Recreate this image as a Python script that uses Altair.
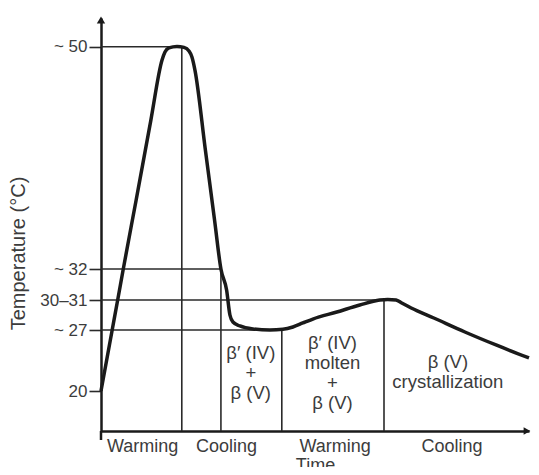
import json
import altair as alt
import pandas as pd

# ---- data (schematic time units 0-100, temperature in °C) ----
curve_time = [0, 2.56, 3.82, 5.10, 8.05, 11.42, 13.96, 14.65, 15.56, 17.39, 18.99, 20.14,
              20.82, 21.51, 23.9, 26.0, 27.46, 28.76, 29.52, 30.21, 31.81, 34.78, 38.67,
              41.65, 43.94, 46.22, 48.51, 54.0, 59.27, 63.84, 65.68, 67.73, 69.1, 71.4,
              76.89, 84.44, 91.99, 100]
curve_temp = [20, 27, 30.5, 32, 37.59, 44.06, 48.9, 49.57, 49.9, 50.02, 49.94, 49.65,
              49.17, 48.11, 41.64, 35.97, 32, 30.98, 28.75, 27.93, 27.47, 27.12, 27.0,
              27.08, 27.35, 27.82, 28.28, 29.1, 29.92, 30.5, 30.53, 30.5, 30.15, 29.57,
              28.4, 26.77, 25.28, 23.79]

y_tick_values = [20, 27, 30.5, 32, 50]
y_tick_labels = ["20", "~ 27", "30–31", "~ 32", "~ 50"]

# guide lines: horizontal from the axis to a time, vertical from the axis up to a temperature
h_temp = [50, 32, 30.5, 27]
h_end = [18.5, 27.46, 64.8, 41.4]
v_time = [18.5, 27.46, 41.4, 64.8]
v_top = [50, 32, 27.08, 30.5]

phase_pos = [9.4, 28.6, 53.5, 81.2]
phase_labels = ["Warming", "Cooling", "Warming", "Cooling"]

region_time = [34.3, 53.0, 80.3]
region_temp = [24.36, 25.51, 23.33]   # position of each block's first line
region_text = ["β′ (IV)\n+\nβ (V)", "β′ (IV)\nmolten\n+\nβ (V)", "β (V)\ncrystallization"]

# schematic (piecewise) axes
T_MIN, T_MAX = 15.4, 52.3
y_domain = [T_MIN, 20, 27, 30.5, 32, 50, T_MAX]
y_range = [413, 373, 312, 282, 251, 28.7, 0]
x_domain = [0, 64.8, 100]
x_range = [0, 283, 428]

FONT = "Liberation Sans"
TXT = "#3c3c3c"
INK = "#1a1a1a"
GRID = "#2a2a2a"

xscale = alt.Scale(domain=x_domain, range=x_range, nice=False, zero=False)
yscale = alt.Scale(domain=y_domain, range=y_range, nice=False, zero=False)

y_expr = "%s[indexof(%s, datum.value)]" % (json.dumps(y_tick_labels, ensure_ascii=False), json.dumps(y_tick_values))
x_expr = "%s[indexof(%s, datum.value)]" % (json.dumps(phase_labels), json.dumps(phase_pos))

xaxis = alt.Axis(values=phase_pos, labelExpr=x_expr, grid=False, ticks=False, tickSize=0,
                 labelPadding=6, labelFontSize=18, labelFont=FONT, labelColor=TXT,
                 labelFlush=False, labelOverlap=False,
                 domainColor=INK, domainWidth=2.5,
                 titleFontSize=18, titleFont=FONT, titleColor=TXT, titleFontWeight="normal",
                 titlePadding=1)
yaxis = alt.Axis(values=y_tick_values, labelExpr=y_expr, grid=False, tickSize=12, tickWidth=1.6,
                 tickColor=GRID, labelPadding=2, labelFontSize=17, labelFont=FONT,
                 labelColor=TXT, labelOverlap=False, labelFlush=False,
                 domainColor=INK, domainWidth=2.5,
                 titleFontSize=20, titleFont=FONT, titleColor=TXT, titleFontWeight="normal",
                 titleAngle=270, titleX=-83, titleY=235, titleAlign="center",
                 titleBaseline="middle")


def X(f="t"):
    return alt.X(f, type="quantitative", scale=xscale, axis=xaxis, title="Time")


def Y(f="T"):
    return alt.Y(f, type="quantitative", scale=yscale, axis=yaxis, title="Temperature (°C)")


hdf = pd.DataFrame({"t": [0] * len(h_temp), "t2": h_end, "T": h_temp})
vdf = pd.DataFrame({"t": v_time, "T": [T_MIN] * len(v_time), "T2": v_top})
cdf = pd.DataFrame({"t": curve_time, "T": curve_temp})
rdf = pd.DataFrame({"t": region_time, "T": region_temp, "label": region_text})

hrules = alt.Chart(hdf).mark_rule(color=GRID, strokeWidth=1.6).encode(x=X(), x2="t2", y=Y())
vrules = alt.Chart(vdf).mark_rule(color=GRID, strokeWidth=1.6).encode(x=X(), y=Y(), y2="T2")
curve = alt.Chart(cdf).mark_line(color=INK, strokeWidth=3.5, interpolate="monotone").encode(
    x=X(), y=Y(), order="t:Q")
texts = alt.Chart(rdf).mark_text(font=FONT, fontSize=18.5, color=TXT, lineBreak="\n",
                                 lineHeight=20, align="center", baseline="middle").encode(
    x=X(), y=Y(), text="label:N")

up = alt.Chart(pd.DataFrame({"t": [0], "T": [T_MAX]})).mark_point(
    shape="triangle-up", filled=True, size=70, color=INK, opacity=1, yOffset=2).encode(x=X(), y=Y())
right = alt.Chart(pd.DataFrame({"t": [100], "T": [T_MIN]})).mark_point(
    shape="triangle-right", filled=True, size=60, color=INK, opacity=1, xOffset=-2).encode(x=X(), y=Y())
stub = alt.Chart(pd.DataFrame({"t": [0], "T": [T_MIN], "T2": [T_MIN]})).mark_rule(
    color=INK, strokeWidth=2.5, y2Offset=9).encode(x=X(), y=Y(), y2="T2")

chart = alt.layer(hrules, vrules, curve, texts, up, right, stub).properties(
    width=429, height=413,
    autosize=alt.AutoSizeParams(type="none"),
    padding={"left": 93, "top": 10, "right": 1, "bottom": 36},
    background="white",
).configure_view(stroke=None)

chart.save("out.html", embed_options={"renderer": "svg", "actions": False})
